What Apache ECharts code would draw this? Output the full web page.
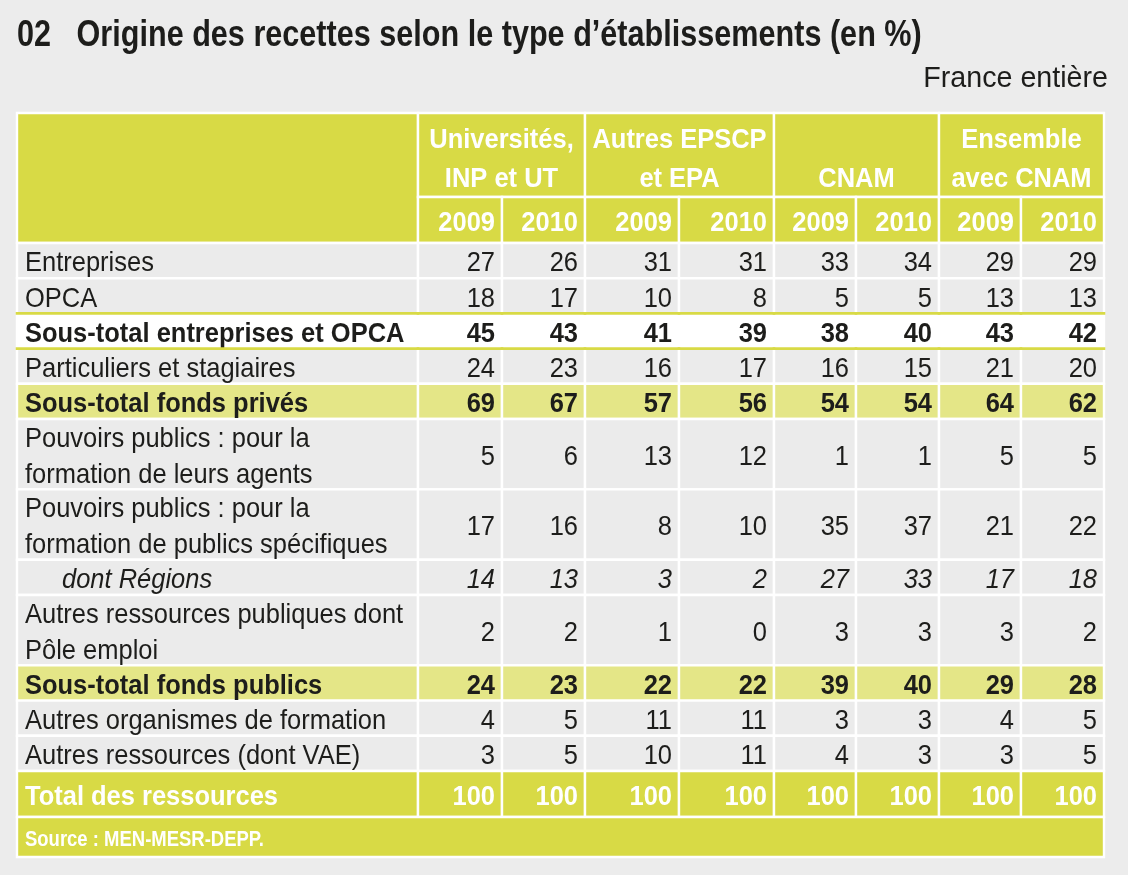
<!DOCTYPE html>
<html lang="fr" style="height: 100%">

<head>
    <meta charset="utf-8">
</head>

<body style="height: 100%; margin: 0; background: #ececec">
    <div id="container" style="width: 1128px; height: 875px"></div>

    <script type="text/javascript" src="https://cdn.jsdelivr.net/npm/echarts@6/dist/echarts.min.js"></script>

    <script type="text/javascript">
        // --- données du tableau ---
        var titleText = '02   Origine des recettes selon le type d\u2019établissements (en %)';
        var zoneText = 'France entière';
        var sourceText = 'Source : MEN-MESR-DEPP.';

        var groups = ['Universités,\nINP et UT', 'Autres EPSCP\net EPA', 'CNAM', 'Ensemble\navec CNAM'];
        var years = ['2009', '2010'];

        var rowLabels = [
            'Entreprises',
            'OPCA',
            'Sous-total entreprises et OPCA',
            'Particuliers et stagiaires',
            'Sous-total fonds privés',
            'Pouvoirs publics : pour la\nformation de leurs agents',
            'Pouvoirs publics : pour la\nformation de publics spécifiques',
            'dont Régions',
            'Autres ressources publiques dont\nPôle emploi',
            'Sous-total fonds publics',
            'Autres organismes de formation',
            'Autres ressources (dont VAE)',
            'Total des ressources'
        ];

        var universites2009 = [27, 18, 45, 24, 69, 5, 17, 14, 2, 24, 4, 3, 100];
        var universites2010 = [26, 17, 43, 23, 67, 6, 16, 13, 2, 23, 5, 5, 100];
        var epscp2009 = [31, 10, 41, 16, 57, 13, 8, 3, 1, 22, 11, 10, 100];
        var epscp2010 = [31, 8, 39, 17, 56, 12, 10, 2, 0, 22, 11, 11, 100];
        var cnam2009 = [33, 5, 38, 16, 54, 1, 35, 27, 3, 39, 3, 4, 100];
        var cnam2010 = [34, 5, 40, 15, 54, 1, 37, 33, 3, 40, 3, 3, 100];
        var ensemble2009 = [29, 13, 43, 21, 64, 5, 21, 17, 3, 29, 4, 3, 100];
        var ensemble2010 = [29, 13, 42, 20, 62, 5, 22, 18, 2, 28, 5, 5, 100];

        var columns = [universites2009, universites2010, epscp2009, epscp2010,
            cnam2009, cnam2010, ensemble2009, ensemble2010];

        // --- mise en page ---
        var colWidths = [401, 84, 83, 94, 95, 82, 83, 82, 83];
        var headHeights = [84, 46];
        var lineUnit = 35.2;
        var totalRowHeight = 46;
        var sourceRowHeight = 40;
        var textShift = 3; // petit décalage vertical du texte
        // style de ligne (index de ligne -> type)
        var rowKind = { 2: 'white', 4: 'band', 7: 'italic', 9: 'band', 12: 'total' };

        var YELLOW = '#d8da45';
        var kindStyle = {
            corner: { fill: YELLOW },
            group: { fill: YELLOW, color: '#ffffff', weight: 'bold' },
            year: { fill: YELLOW, color: '#ffffff', weight: 'bold' },
            plain: { fill: '#ebebeb', color: '#1d1d1b', weight: 'normal' },
            white: { fill: '#ffffff', color: '#1d1d1b', weight: 'bold', rule: YELLOW },
            band: { fill: '#e4e687', color: '#1d1d1b', weight: 'bold' },
            italic: { fill: '#ebebeb', color: '#1d1d1b', weight: 'normal', italic: true, indent: 37 },
            total: { fill: YELLOW, color: '#ffffff', weight: 'bold' },
            source: { fill: YELLOW, color: '#ffffff', weight: 'bold', size: 22, scale: 0.84 }
        };
        var FAMILY = '"Liberation Sans", Arial, sans-serif';

        var colEdges = [0];
        colWidths.forEach(function (w, i) { colEdges.push(colEdges[i] + w); });

        var cells = [];
        var headBottom = headHeights[0] + headHeights[1];
        cells.push({ box: [colEdges[0], colEdges[1], 0, headBottom], text: '', kind: 'corner' });
        groups.forEach(function (g, i) {
            cells.push({ box: [colEdges[1 + 2 * i], colEdges[3 + 2 * i], 0, headHeights[0]], text: g, kind: 'group', align: 'center' });
            years.forEach(function (yr, j) {
                cells.push({ box: [colEdges[1 + 2 * i + j], colEdges[2 + 2 * i + j], headHeights[0], headBottom], text: yr, kind: 'year', align: 'right' });
            });
        });

        var y = headBottom;
        rowLabels.forEach(function (label, r) {
            var kind = rowKind[r] || 'plain';
            var h = kind === 'total' ? totalRowHeight : lineUnit * label.split('\n').length;
            cells.push({ box: [colEdges[0], colEdges[1], y, y + h], text: label, kind: kind, align: 'left' });
            columns.forEach(function (col, c) {
                cells.push({ box: [colEdges[c + 1], colEdges[c + 2], y, y + h], text: String(col[r]), kind: kind, align: 'right' });
            });
            y += h;
        });
        cells.push({ box: [0, colEdges[colEdges.length - 1], y, y + sourceRowHeight], text: sourceText, kind: 'source', align: 'left' });
        var tableHeight = y + sourceRowHeight;

        function renderCell(params, api) {
            var c = cells[params.dataIndex];
            var st = kindStyle[c.kind];
            var p0 = api.coord([api.value(0), api.value(2)]);
            var p1 = api.coord([api.value(1), api.value(3)]);
            var x = p0[0], w = p1[0] - p0[0];
            var top = Math.min(p0[1], p1[1]), h = Math.abs(p1[1] - p0[1]);
            var children = [{
                type: 'rect',
                shape: { x: x, y: top, width: w, height: h },
                style: { fill: st.fill, stroke: '#ffffff', lineWidth: 2.4 }
            }];
            if (c.text) {
                var n = c.text.split('\n').length;
                var lh = c.kind === 'group' ? 39 : 36;
                var tx, ty = top + h / 2;
                if (c.align === 'right') {
                    tx = x + w - 7;
                } else if (c.align === 'center') {
                    tx = x + w / 2;
                } else {
                    tx = x + 8 + (st.indent || 0);
                }
                if (c.kind === 'group') {
                    ty = top + h - 21 - (n - 1) * lh / 2;
                }
                var size = st.size || 28;
                children.push({
                    type: 'text',
                    x: tx,
                    y: ty + textShift,
                    scaleX: st.scale || 0.91,
                    z2: 5,
                    style: {
                        text: c.text,
                        fill: st.color,
                        font: (st.italic ? 'italic ' : '') + st.weight + ' ' + size + 'px ' + FAMILY,
                        lineHeight: lh,
                        align: c.align,
                        textAlign: c.align,
                        verticalAlign: 'middle',
                        textVerticalAlign: 'middle'
                    }
                });
            }
            if (st.rule) {
                [top, top + h].forEach(function (ly) {
                    children.push({
                        type: 'line',
                        z2: 10,
                        shape: { x1: x - 1.3, y1: ly, x2: x + w + 1.3, y2: ly },
                        style: { stroke: st.rule, lineWidth: 2.6 }
                    });
                });
            }
            return { type: 'group', children: children };
        }

        var dom = document.getElementById('container');
        var myChart = echarts.init(dom, null, { renderer: 'canvas' });

        var option = {
            backgroundColor: '#ececec',
            animation: false,
            graphic: [
                {
                    type: 'text',
                    x: 17,
                    y: 36,
                    scaleX: 0.85,
                    style: {
                        text: titleText,
                        fill: '#1d1d1b',
                        font: 'bold 36px ' + FAMILY,
                        align: 'left',
                        textAlign: 'left',
                        verticalAlign: 'middle',
                        textVerticalAlign: 'middle'
                    }
                },
                {
                    type: 'text',
                    x: 1108,
                    y: 79,
                    scaleX: 0.955,
                    style: {
                        text: zoneText,
                        fill: '#1d1d1b',
                        font: '30px ' + FAMILY,
                        align: 'right',
                        textAlign: 'right',
                        verticalAlign: 'middle',
                        textVerticalAlign: 'middle'
                    }
                }
            ],
            grid: {
                left: 17,
                top: 113,
                width: colEdges[colEdges.length - 1],
                height: tableHeight
            },
            xAxis: {
                type: 'value',
                min: 0,
                max: colEdges[colEdges.length - 1],
                show: false
            },
            yAxis: {
                type: 'value',
                min: 0,
                max: tableHeight,
                inverse: true,
                show: false
            },
            series: [{
                type: 'custom',
                renderItem: renderCell,
                clip: false,
                encode: { x: [0, 1], y: [2, 3] },
                data: cells.map(function (c) { return c.box; })
            }]
        };

        myChart.setOption(option);
        window.addEventListener('resize', myChart.resize);
    </script>
</body>

</html>
